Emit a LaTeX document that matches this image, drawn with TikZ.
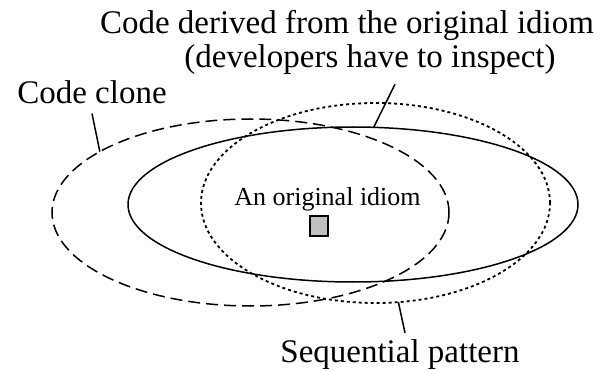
\documentclass[tikz,border=0pt]{standalone}
\usepackage{fontspec}
\setmainfont{Liberation Serif}
\usetikzlibrary{shapes.geometric}
\tikzstyle{region} = [draw,ellipse,inner sep=0pt,outer sep=0pt,line width=1.5pt]
\tikzstyle{caption} = [inner sep=0pt,anchor=base,font=\fontsize{33}{35}\selectfont]
\tikzstyle{inside} = [inner sep=0pt,anchor=base,font=\fontsize{26}{28}\selectfont]
\tikzstyle{leader} = [draw,line width=1.5pt]

\begin{document}
\begin{tikzpicture}[x=1pt,y=-1pt]
\useasboundingbox (0,0) rectangle (607,371);

\node[region,dash pattern=on 12pt off 6pt,minimum width=397pt,minimum height=187pt] (clone) at (250.5,212.5) {};
\node[region,minimum width=450pt,minimum height=155pt] (derived) at (353,204.5) {};
\node[region,line width=1.8pt,dash pattern=on 3pt off 3pt,minimum width=349pt,minimum height=200pt] (seq) at (375.5,203) {};

\node[inside] (idiomLbl) at (327.5,206) {An original idiom};
\node[draw,fill=gray!50,line width=1.5pt,minimum width=18pt,minimum height=20pt,inner sep=0pt] (idiom) at (319,226) {};

\node[caption] (cloneLbl) at (92,104) {Code clone};
\node[caption] (derivedA) at (347,34) {Code derived from the original idiom};
\node[caption] (derivedB) at (370,68) {(developers have to inspect)};
\node[caption] (seqLbl) at (400,362) {Sequential pattern};

\draw[leader] ([yshift=-9pt]cloneLbl.south) -- (clone.158);
\draw[leader] (derived.75) -- ([xshift=25pt,yshift=-9pt]derivedB.south);
\draw[leader] (seq.283) -- ([xshift=5pt,yshift=6pt]seqLbl.north);

\end{tikzpicture}
\end{document}
